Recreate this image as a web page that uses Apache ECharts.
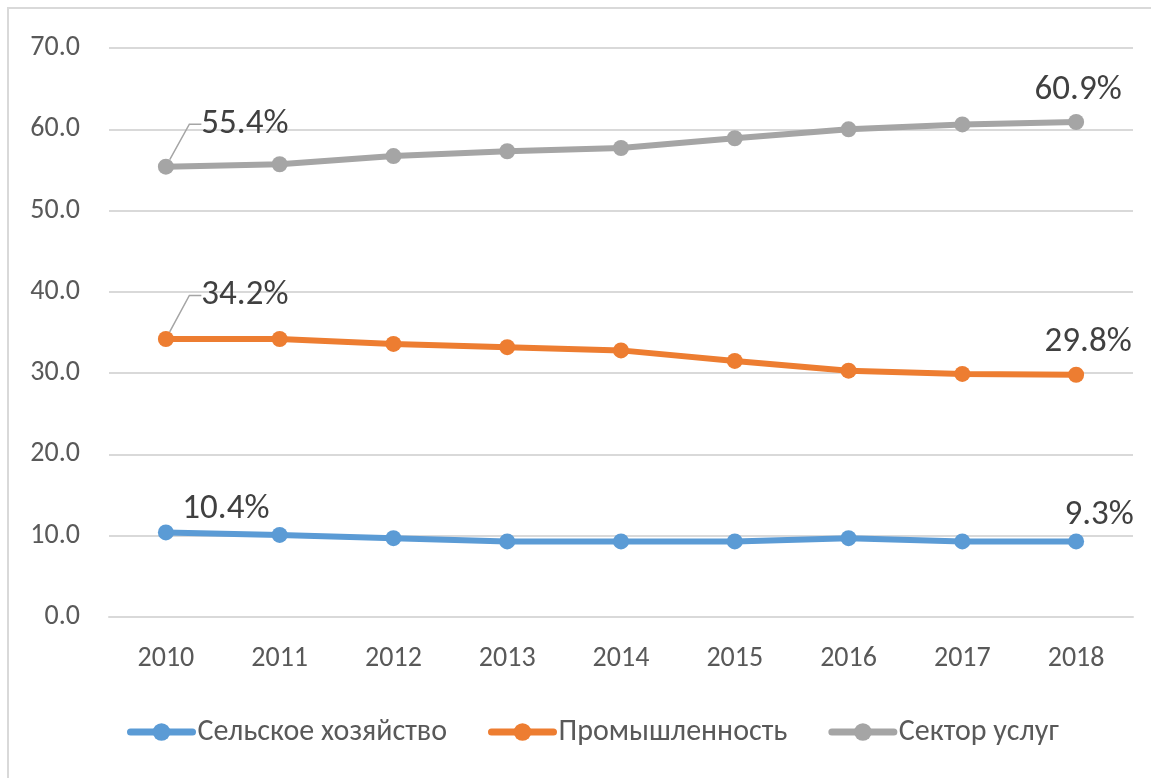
<!DOCTYPE html>
<html>
<head>
<meta charset="utf-8">
<script src="https://cdn.jsdelivr.net/npm/echarts@6/dist/echarts.min.js"></script>
<style>
  html, body { margin: 0; padding: 0; background: #ffffff; }
  #frame { position: absolute; left: 7px; top: 7px; width: 1200px; height: 800px;
           border-left: 2px solid #d9d9d9; border-top: 2px solid #d9d9d9; }
  #chart { position: absolute; left: 0; top: 0; width: 1151px; height: 778px; }
</style>
</head>
<body>
<div id="frame"></div>
<div id="chart"></div>
<script>
var years = ['2010', '2011', '2012', '2013', '2014', '2015', '2016', '2017', '2018'];
var agriculture = [10.4, 10.1, 9.7, 9.3, 9.3, 9.3, 9.7, 9.3, 9.3];
var industry = [34.2, 34.2, 33.6, 33.2, 32.8, 31.5, 30.3, 29.9, 29.8];
var services = [55.4, 55.7, 56.7, 57.3, 57.7, 58.9, 60.0, 60.6, 60.9];
var names = ['Сельское хозяйство', 'Промышленность', 'Сектор услуг'];
var colors = ['#5b9bd5', '#ed7d31', '#a5a5a5'];

var font = "Carlito, 'Liberation Sans Narrow', Lato, 'Noto Sans', sans-serif";

// label offsets from default 'top' spot (Excel-like placement)
var offsets = {
  '0-0': { dx: 60, dy: 7 },
  '0-8': { dx: 23, dy: 4 },
  '1-0': { dx: 79, dy: -13 },
  '1-8': { dx: 12, dy: -2 },
  '2-0': { dx: 79, dy: -12 },
  '2-8': { dx: 2, dy: -1 }
};

// only first and last points get a label, leader line only on first of series 1,2
function withLabels(arr, k) {
  return arr.map(function (v, i) {
    var show = (i === 0 || i === arr.length - 1);
    return {
      value: v,
      label: { show: show },
      labelLine: { show: show && i === 0 && k > 0 }
    };
  });
}

var chart = echarts.init(document.getElementById('chart'));

var series = [agriculture, industry, services].map(function (arr, k) {
  return {
    name: names[k],
    type: 'line',
    data: withLabels(arr, k),
    symbol: 'circle',
    symbolSize: 16,
    lineStyle: { width: 6, color: colors[k] },
    itemStyle: { color: colors[k] },
    label: {
      position: 'top',
      formatter: function (p) { return p.value.toFixed(1) + '%'; },
      fontFamily: font,
      fontSize: 35,
      color: '#404040'
    },
    labelLine: {
      length2: 12,
      lineStyle: { color: '#a5a5a5', width: 1.5 }
    },
    labelLayout: function (p) {
      var o = offsets[p.seriesIndex + '-' + p.dataIndex];
      return o ? { dx: o.dx, dy: o.dy } : {};
    }
  };
});

chart.setOption({
  animation: false,
  textStyle: { fontFamily: font },
  grid: { left: 109, right: 18, top: 48, bottom: 161 },
  legend: {
    top: 712,
    left: 122,
    itemWidth: 62,
    itemHeight: 22,
    itemGap: 41,
    lineStyle: { width: 7, cap: 'round' },
    textStyle: { fontFamily: font, fontSize: 30, color: '#595959' },
    data: names
  },
  xAxis: {
    type: 'category',
    data: years,
    boundaryGap: true,
    axisLine: { show: true, lineStyle: { color: '#d9d9d9', width: 2 } },
    axisTick: { show: false },
    axisLabel: { fontFamily: font, fontSize: 28, color: '#595959', margin: 28 }
  },
  yAxis: {
    type: 'value',
    min: 0,
    max: 70,
    interval: 10,
    axisLine: { show: false },
    axisTick: { show: false },
    splitLine: { lineStyle: { color: '#d9d9d9', width: 2 } },
    axisLabel: {
      fontFamily: font, fontSize: 28, color: '#595959', margin: 29,
      formatter: function (v) { return v.toFixed(1); }
    }
  },
  series: series
});
</script>
</body>
</html>
